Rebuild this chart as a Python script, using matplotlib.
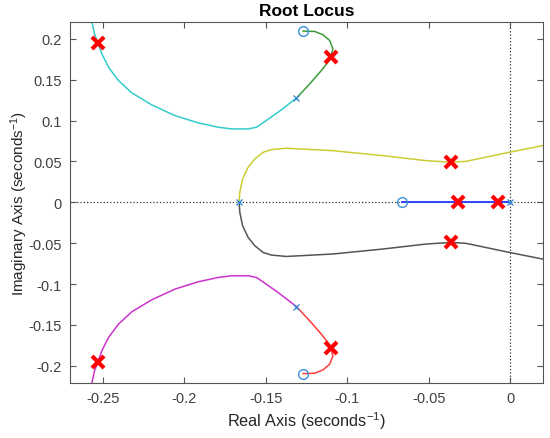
import matplotlib
matplotlib.use("Agg")
import matplotlib.pyplot as plt

plt.rcParams['font.family'] = ['Liberation Sans', 'DejaVu Sans']
plt.rcParams['mathtext.default'] = 'regular'

# ---- data ----
cyan_x = [-0.2566, -0.2550, -0.2529, -0.2505, -0.2464, -0.2403, -0.2321, -0.2199, -0.2056, -0.1914,
          -0.1791, -0.1709, -0.1608, -0.1557, -0.1506, -0.1424, -0.1312]
cyan_y = [0.2210, 0.2063, 0.1952, 0.1817, 0.1654, 0.1490, 0.1339, 0.1192, 0.1061, 0.0972,
          0.0919, 0.0898, 0.0898, 0.0919, 0.0988, 0.1103, 0.1275]

green_x = [-0.1312, -0.1230, -0.1159, -0.1118, -0.1102, -0.1088, -0.1108, -0.1149, -0.1200, -0.1271]
green_y = [0.1275, 0.1450, 0.1613, 0.1716, 0.1777, 0.1879, 0.1980, 0.2050, 0.2091, 0.2095]

magenta_x = [-0.2566, -0.2550, -0.2529, -0.2505, -0.2464, -0.2403, -0.2321, -0.2199, -0.2056, -0.1914,
             -0.1791, -0.1709, -0.1608, -0.1557, -0.1506, -0.1424, -0.1312]
magenta_y = [-0.2210, -0.2063, -0.1952, -0.1817, -0.1654, -0.1490, -0.1339, -0.1192, -0.1061, -0.0972,
             -0.0919, -0.0898, -0.0898, -0.0919, -0.0988, -0.1103, -0.1275]

red_x = [-0.1312, -0.1230, -0.1159, -0.1118, -0.1102, -0.1088, -0.1108, -0.1149, -0.1200, -0.1271]
red_y = [-0.1275, -0.1450, -0.1613, -0.1716, -0.1777, -0.1879, -0.1980, -0.2050, -0.2091, -0.2095]

yellow_x = [-0.1663, -0.1659, -0.1642, -0.1608, -0.1567, -0.1516, -0.1465, -0.1373, -0.1088,
            -0.0782, -0.0516, -0.0363, -0.0271, -0.0006, 0.0198]
yellow_y = [0.0000, 0.0123, 0.0286, 0.0429, 0.0531, 0.0613, 0.0645, 0.0662, 0.0632,
            0.0571, 0.0510, 0.0490, 0.0502, 0.0613, 0.0694]

black_x = [-0.1663, -0.1659, -0.1642, -0.1608, -0.1567, -0.1516, -0.1465, -0.1373, -0.1088,
           -0.0782, -0.0516, -0.0363, -0.0271, -0.0006, 0.0198]
black_y = [0.0000, -0.0123, -0.0286, -0.0429, -0.0531, -0.0613, -0.0645, -0.0662, -0.0632,
           -0.0571, -0.0510, -0.0490, -0.0502, -0.0613, -0.0694]

blue_x = [-0.0663, 0.0]
blue_y = [0.0, 0.0]

ol_pole_x = [0.0, -0.1663, -0.1312, -0.1312]
ol_pole_y = [0.0, 0.0, 0.1275, -0.1275]

zero_x = [-0.0663, -0.1271, -0.1271]
zero_y = [0.0, 0.2095, -0.2095]

cl_pole_x = [-0.2529, -0.1102, -0.0363, -0.0322, -0.0073, -0.0363, -0.1102, -0.2529]
cl_pole_y = [0.1952, 0.1777, 0.0490, 0.0, 0.0, -0.0490, -0.1777, -0.1952]

x_ticks = [-0.25, -0.2, -0.15, -0.1, -0.05, 0]
x_tick_labels = ['-0.25', '-0.2', '-0.15', '-0.1', '-0.05', '0']
y_ticks = [-0.2, -0.15, -0.1, -0.05, 0, 0.05, 0.1, 0.15, 0.2]
y_tick_labels = ['-0.2', '-0.15', '-0.1', '-0.05', '0', '0.05', '0.1', '0.15', '0.2']

# ---- figure ----
fig = plt.figure(figsize=(5.5, 4.39), dpi=100)
ax = fig.add_axes([0.1273, 0.1253, 0.86, 0.823])

axc = '#404040'
ax.axhline(0, color='#333333', linestyle=':', linewidth=0.9, zorder=1)
ax.axvline(0, color='#333333', linestyle=':', linewidth=0.9, zorder=1)

ax.plot(cyan_x, cyan_y, color='#33cccc', lw=1.1, zorder=2)
ax.plot(green_x, green_y, color='#3a9a3a', lw=1.1, zorder=2)
ax.plot(magenta_x, magenta_y, color='#cc33cc', lw=1.1, zorder=2)
ax.plot(red_x, red_y, color='#ff3b3b', lw=1.1, zorder=2)
ax.plot(yellow_x, yellow_y, color='#cccc33', lw=1.1, zorder=2)
ax.plot(black_x, black_y, color='#555555', lw=1.1, zorder=2)
ax.plot(blue_x, blue_y, color='#3344ff', lw=1.4, zorder=2)

ax.plot(ol_pole_x, ol_pole_y, linestyle='none', marker='x', ms=5, mew=1.0,
        color='#3c8fd9', zorder=3)
ax.plot(zero_x, zero_y, linestyle='none', marker='o', ms=7, mew=1.0,
        mfc='none', mec='#3c8fd9', zorder=3)
ax.plot(cl_pole_x, cl_pole_y, linestyle='none', marker='x', ms=9, mew=3.0,
        color='#ff0000', zorder=4)

ax.set_xlim(-0.27, 0.02)
ax.set_ylim(-0.221, 0.221)
ax.set_xticks(x_ticks)
ax.set_xticklabels(x_tick_labels)
ax.set_yticks(y_ticks)
ax.set_yticklabels(y_tick_labels)

ax.tick_params(direction='in', length=4, width=0.8, top=True, right=True,
               colors='#555555', labelcolor=axc, labelsize=10.5, pad=6)
for s in ax.spines.values():
    s.set_color('#555555')
    s.set_linewidth(0.8)

ax.set_xlabel('Real Axis (seconds$^{-1}$)', fontsize=11.7, color='#262626', labelpad=3)
ax.set_ylabel('Imaginary Axis (seconds$^{-1}$)', fontsize=11, color='#262626', labelpad=-1)
ax.set_title('Root Locus', fontsize=12.5, fontweight='bold', color='#000000', pad=5)

fig.savefig('out.png', dpi=100)
